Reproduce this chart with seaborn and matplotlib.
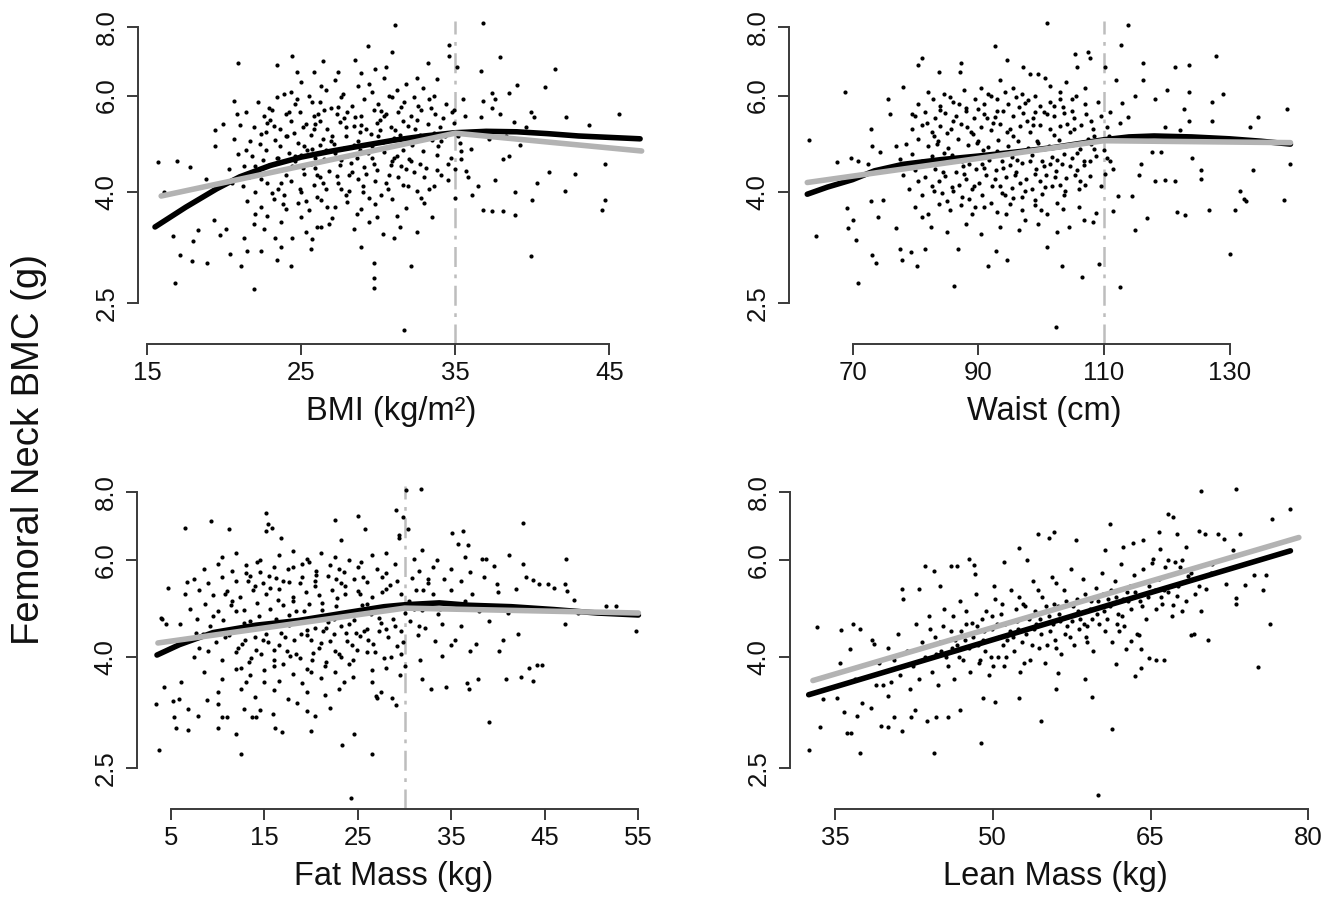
import matplotlib
matplotlib.use("Agg")
import matplotlib.pyplot as plt
from matplotlib.ticker import NullLocator
import pandas as pd
import seaborn as sns

# ---------------- data ----------------
y_ticks = [2.5, 4.0, 6.0, 8.0]
y_tick_labels = ["2.5", "4.0", "6.0", "8.0"]

# BMI panel: (BMI, BMC)
bmi_pts = [
    (15.7,4.53),(16.1,4.0),(16.9,4.55),(16.7,3.32),(16.8,2.72),(17.1,3.07),(17.8,4.44),(18.0,3.25),
    (18.3,3.40),(17.9,2.99),(18.9,2.96),(18.8,4.22),(19.3,3.55),(19.4,4.86),(19.4,5.18),(19.9,5.32),
    (19.7,3.33),(20.1,3.42),(20.4,3.08),(20.6,5.87),(20.9,6.88),(20.8,5.54),(21.1,2.93),(21.9,2.66),
    (21.3,3.29),(21.5,3.12),(22.4,3.12),(23.4,6.83),(23.4,3.00),(24.3,2.93),(24.4,7.09),(23.7,3.17),
    (24.7,6.62),(25.6,3.14),(26.4,6.93),(25.8,6.62),(27.4,6.62),(28.5,6.97),(29.3,7.38),(28.9,3.17),
    (29.7,2.96),(29.7,2.78),(29.7,2.67),(29.8,6.72),(30.5,6.76),(30.9,7.22),(31.0,3.29),(31.1,8.08),
    (31.7,2.24),(32.1,2.93),(32.5,3.38),(33.2,6.88),(33.8,6.44),(34.6,7.09),(34.6,7.42),(35.1,6.76),
    (36.8,8.13),(36.7,6.64),(37.9,7.07),(39.0,6.27),(36.8,3.71),(37.4,3.69),(38.1,3.69),(38.9,3.63),
    (38.9,3.99),(40.0,3.87),(39.9,3.05),(40.3,4.15),(40.1,5.47),(40.8,6.21),(41.1,4.35),(41.5,6.72),
    (42.1,4.01),(42.2,5.47),(42.8,4.32),(43.7,5.29),(44.5,3.71),(44.7,3.87),(44.7,4.50),(45.6,5.54),
    (38.5,6.07),(37.4,6.07),(36.1,3.94),(36.5,4.1),(37.6,4.2),(38.1,4.6),(38.5,4.66),(38.3,5.06),
    (39.6,5.26),(39.9,5.6),(39.2,4.87),(38.8,5.36),(37.9,5.54),(37.4,5.7),(36.8,5.87),(37.6,5.9),
    (36.7,5.47),(37.2,4.99),(36.0,4.8),(35.7,4.37),(35.4,4.6),
    (23.9,6.05),(25.0,6.35),(26.6,6.15),(27.2,6.4),(28.7,6.25),(29.6,6.1),(30.4,6.45),(31.8,6.3),
    (32.9,6.2),(33.6,6.0),(24.3,6.1),(31.2,6.15),
    (22.2,5.85),(23.4,5.95),(24.6,5.8),(25.5,6.0),(26.2,5.85),(27.6,5.95),(28.3,5.75),(29.1,5.9),
    (30.0,5.8),(30.9,5.95),(31.7,5.85),(32.6,5.75),(33.3,5.9),(34.4,5.8),(35.5,5.9),(22.9,5.7),(26.9,5.7),
    (21.4,5.6),(22.6,5.5),(23.1,5.65),(24.0,5.55),(24.9,5.6),(25.8,5.5),(26.5,5.65),(27.3,5.55),
    (28.0,5.6),(28.9,5.5),(29.7,5.65),(30.5,5.55),(31.3,5.6),(32.1,5.5),(32.8,5.65),(33.7,5.55),
    (34.8,5.6),(35.6,5.5),(27.8,5.45),(30.1,5.42),
    (21.0,5.3),(21.9,5.25),(22.8,5.35),(23.6,5.2),(24.3,5.38),(25.1,5.25),(25.9,5.32),(26.7,5.22),
    (27.5,5.36),(28.4,5.28),(29.2,5.2),(29.9,5.35),(30.8,5.25),(31.6,5.38),(32.4,5.22),(33.2,5.32),
    (34.0,5.25),(34.9,5.35),(23.2,5.28),(26.2,5.4),(31.1,5.18),
    (20.6,5.0),(21.7,4.95),(22.4,5.1),(23.3,4.98),(24.1,5.05),(24.8,4.92),(25.6,5.08),(26.4,5.0),
    (27.1,4.9),(27.9,5.06),(28.7,4.96),(29.5,5.1),(30.3,4.93),(31.0,5.02),(31.9,4.95),(32.7,5.08),
    (33.5,4.98),(34.3,5.05),(35.3,4.92),(25.2,4.85),(29.0,4.88),
    (20.9,4.7),(21.8,4.65),(22.7,4.78),(23.5,4.62),(24.2,4.72),(25.0,4.68),(25.7,4.8),(26.5,4.6),
    (27.2,4.72),(28.0,4.66),(28.8,4.78),(29.6,4.62),(30.4,4.74),(31.2,4.66),(32.0,4.6),(32.9,4.75),
    (33.8,4.68),(34.7,4.62),(35.4,4.75),(24.6,4.55),(27.6,4.58),(30.9,4.56),
    (20.3,4.4),(21.3,4.45),(22.1,4.35),(22.9,4.48),(23.7,4.38),(24.4,4.45),(25.2,4.32),(25.9,4.42),
    (26.8,4.36),(27.5,4.48),(28.3,4.34),(29.1,4.44),(29.9,4.38),(30.7,4.3),(31.5,4.46),(32.3,4.35),
    (33.1,4.42),(34.1,4.3),(35.0,4.4),(26.2,4.25),(28.7,4.22),
    (21.2,4.1),(22.0,4.0),(22.8,4.15),(23.5,4.05),(24.3,4.18),(25.0,4.0),(25.8,4.12),(26.6,4.05),
    (27.4,4.15),(28.1,4.02),(29.0,4.1),(29.8,4.18),(30.6,4.05),(31.6,4.12),(32.5,4.02),(33.6,4.1),
    (34.5,4.2),(23.9,3.95),(26.0,3.92),(27.9,3.95),
    (21.5,3.85),(22.4,3.75),(23.2,3.88),(24.0,3.72),(24.8,3.82),(25.5,3.7),(26.3,3.86),(27.2,3.76),
    (28.0,3.84),(28.9,3.72),(29.8,3.8),(30.9,3.88),(31.8,3.74),(33.0,3.82),(22.8,3.62),(25.0,3.6),(27.0,3.58),
    (21.9,3.5),(22.6,3.42),(23.7,3.52),(25.3,3.38),(26.0,3.45),(26.8,3.5),(28.4,3.42),(29.4,3.52),
    (30.3,3.35),(31.4,3.45),(24.4,3.3),(25.7,3.28),
    (23.0,5.42),(24.5,5.12),(25.4,4.78),(26.1,5.55),(27.0,5.05),(27.8,4.82),(28.5,5.48),(29.3,4.72),
    (30.1,5.18),(30.8,4.48),(31.5,5.72),(32.2,4.88),(24.0,4.3),(24.9,4.05),(25.6,4.5),(26.4,4.15),
    (27.3,4.28),(28.2,4.52),(29.0,4.0),(29.7,4.5),(30.5,4.16),(31.3,4.25),(32.1,4.55),(33.0,4.25),
    (23.4,4.62),(25.3,5.32),(26.9,4.95),(28.8,5.15),(30.2,5.62),(32.5,5.42),(33.6,5.12),(34.5,4.5),
    (22.3,4.9),(21.6,4.25),(23.8,3.8),(26.7,3.75),(29.4,3.9),(31.9,4.1),(24.7,5.9),(27.7,6.05),
    (30.7,6.0),(33.9,4.85),(22.5,4.58),(25.9,4.62),(28.6,4.62),(31.6,4.78),(34.2,5.45),(35.2,5.05),
    (20.5,4.15),(21.4,4.78),(35.8,4.25),(35.0,3.9),(33.5,3.6),(32.5,6.45),(28.9,6.6),(26.3,3.45),
    (23.3,3.3),(22.0,3.65),(29.9,3.6),(31.2,3.62),
    (22.7,5.15),(23.6,4.85),(24.2,5.6),(25.1,4.42),(25.8,5.2),(26.6,4.78),(27.4,5.72),(28.1,4.3),
    (28.9,5.3),(29.6,4.85),(30.4,5.5),(31.0,4.62),(31.9,5.28),(32.7,4.5),(33.4,5.7),(34.1,4.95),
    (22.4,4.22),(23.1,3.98),(24.6,4.65),(26.0,4.3),(27.6,4.05),(29.2,4.32),(30.2,3.95),(31.8,4.4),
    (33.3,4.05),(24.0,5.05),(25.7,5.85),(27.9,5.25),(30.0,5.05),(32.3,5.95),(26.3,6.25),(29.4,6.3),
    (23.7,4.15),(26.2,4.88),(28.4,4.88),(31.4,5.08),(33.8,4.38),(34.9,5.65),(22.0,4.45),(25.3,3.85),
    (28.6,3.65),(32.8,3.9),
]
bmi_smooth_x = [15.5, 17.5, 19.5, 21.0, 23.0, 25.0, 27.0, 29.0, 31.0, 33.0, 35.0, 37.0, 39.0, 41.0, 43.0, 45.0, 47.0]
bmi_smooth_y = [3.45, 3.75, 4.05, 4.26, 4.47, 4.63, 4.75, 4.86, 4.97, 5.06, 5.13, 5.16, 5.15, 5.11, 5.06, 5.03, 5.00]
bmi_piece_x = [15.9, 35.0, 47.1]
bmi_piece_y = [3.93, 5.12, 4.75]
bmi_break = 35
bmi_ticks = [15, 25, 35, 45]

# Waist panel
waist_pts = [
    (63.0,4.98),(64.2,3.32),(68.8,6.09),(67.6,4.53),(69.8,4.61),(70.8,4.56),(69.1,3.74),(69.3,3.43),
    (70.1,3.55),(70.6,3.27),(70.9,2.72),(72.5,4.49),(73.0,5.20),(73.1,4.86),(72.9,3.85),(73.1,3.07),
    (73.7,2.97),(74.0,3.60),(74.3,4.73),(75.6,5.90),(75.9,5.54),(74.9,3.87),(76.9,4.86),(76.9,3.43),
    (77.6,3.14),(77.8,3.00),(78.1,6.21),(79.3,3.10),(80.3,2.93),(81.0,7.02),(81.5,3.14),(80.5,6.83),
    (83.7,6.62),(87.3,6.88),(87.1,6.62),(86.2,2.69),(86.8,3.14),(91.5,2.93),(92.7,7.38),(94.6,6.97),
    (92.9,3.12),(94.6,3.0),(97.1,6.76),(98.3,6.56),(99.5,6.56),(100.7,6.45),(101.0,8.13),(101.0,3.17),
    (102.4,2.26),(103.4,2.93),(105.4,7.14),(105.8,6.76),(106.5,2.80),(107.5,7.22),(107.8,7.02),(109.2,2.95),
    (110.2,6.76),(111.9,6.41),(112.6,2.68),(112.8,7.42),(113.9,8.08),(116.3,6.88),(116.3,6.41),(114.9,3.40),
    (116.9,3.59),(120.0,6.15),(121.4,6.76),(121.7,3.68),(122.9,3.63),(123.6,6.83),(123.6,6.09),(124.1,4.62),
    (125.5,4.39),(125.5,4.22),(126.8,3.70),(127.8,7.09),(128.9,6.04),(127.2,5.40),(127.2,5.85),(130.1,3.08),
    (130.9,3.71),(131.6,4.01),(132.3,3.88),(132.6,3.85),(133.2,5.26),(133.7,4.39),(134.5,5.47),(138.7,3.87),
    (139.2,5.67),(139.6,4.50),(119.7,4.21),(121.4,4.18),(118.1,4.18),(119.1,4.73),(120.5,5.03),(122.1,5.19),
    (122.8,5.67),(123.5,5.40),(118.1,5.90),(119.8,5.26),(117.6,4.73),(115.9,4.49),(115.6,4.30),(114.5,3.93),
    (112.9,5.81),(113.9,5.47),(114.9,5.98),(112.2,3.93),(111.5,3.69),(108.8,3.66),(108.2,3.52),(106.8,3.56),
    (82.0,6.1),(84.5,6.05),(87.8,6.15),(90.5,6.2),(92.0,6.0),(94.2,6.1),(95.5,6.2),(97.0,6.05),
    (99.0,6.0),(101.5,6.25),(103.0,6.1),(105.5,6.0),(107.0,6.2),
    (80.5,5.8),(82.8,5.9),(84.0,5.75),(86.0,5.85),(88.0,5.7),(89.5,5.9),(91.0,5.78),(93.0,5.92),
    (94.8,5.8),(96.5,5.72),(98.0,5.88),(99.8,5.75),(101.5,5.85),(103.5,5.72),(105.0,5.9),(107.0,5.78),(109.0,5.85),
    (80.0,5.5),(81.5,5.6),(83.2,5.45),(84.8,5.58),(86.4,5.5),(88.0,5.62),(89.4,5.45),(91.0,5.55),
    (92.6,5.48),(94.0,5.62),(95.6,5.5),(97.2,5.58),(98.8,5.45),(100.4,5.6),(102.0,5.5),(103.7,5.58),
    (105.3,5.45),(107.2,5.55),(109.5,5.5),(111.0,5.6),
    (79.5,5.2),(81.0,5.3),(82.6,5.15),(84.0,5.28),(85.6,5.2),(87.2,5.32),(88.8,5.15),(90.4,5.25),
    (92.0,5.18),(93.5,5.32),(95.0,5.2),(96.6,5.28),(98.2,5.15),(99.8,5.3),(101.4,5.2),(103.0,5.28),
    (104.6,5.15),(106.4,5.3),(108.2,5.2),(110.5,5.25),
    (78.5,4.9),(80.5,5.0),(82.0,4.85),(83.6,4.95),(85.2,4.82),(86.8,5.0),(88.4,4.88),(90.0,4.96),
    (91.6,4.84),(93.2,4.98),(94.8,4.86),(96.4,4.95),(98.0,4.82),(99.6,4.92),(101.2,4.85),(102.8,4.98),
    (104.5,4.88),(106.2,4.8),(108.0,4.9),(110.0,4.78),
    (77.5,4.6),(79.5,4.7),(81.0,4.55),(82.6,4.65),(84.2,4.52),(85.8,4.68),(87.4,4.55),(89.0,4.62),
    (90.6,4.5),(92.2,4.66),(93.8,4.55),(95.4,4.64),(97.0,4.52),(98.6,4.68),(100.2,4.56),(101.8,4.63),
    (103.4,4.5),(105.0,4.62),(106.8,4.55),(108.8,4.65),(111.0,4.55),
    (78.0,4.3),(80.0,4.38),(81.6,4.25),(83.2,4.4),(84.8,4.28),(86.4,4.35),(88.0,4.22),(89.6,4.4),
    (91.2,4.3),(92.8,4.38),(94.4,4.25),(96.0,4.35),(97.6,4.22),(99.2,4.4),(100.8,4.3),(102.4,4.36),
    (104.0,4.24),(105.8,4.38),(107.8,4.28),(110.2,4.32),
    (79.0,4.05),(81.0,3.95),(82.6,4.1),(84.2,3.98),(85.8,4.08),(87.4,3.92),(89.0,4.05),(90.6,3.95),
    (92.2,4.1),(93.8,3.98),(95.4,4.06),(97.0,3.92),(98.6,4.05),(100.2,3.96),(101.8,4.1),(103.6,3.95),(106.0,4.05),
    (80.0,3.75),(82.0,3.65),(83.8,3.8),(85.5,3.7),(87.2,3.78),(89.0,3.64),(91.0,3.75),(93.0,3.68),
    (95.0,3.8),(97.0,3.7),(99.0,3.78),(101.0,3.65),(103.5,3.72),
    (82.5,3.45),(85.0,3.38),(88.0,3.5),(90.5,3.35),(93.5,3.45),(96.5,3.4),(99.5,3.5),(102.5,3.38),(104.5,3.45),
    (83.0,5.05),(84.6,4.72),(86.0,5.4),(87.6,4.45),(89.2,5.1),(90.8,4.78),(92.4,5.35),(94.0,4.42),
    (95.6,5.05),(97.2,4.75),(98.8,5.3),(100.4,4.45),(102.0,5.08),(103.6,4.7),(105.2,5.22),(106.8,4.48),
    (108.4,5.05),(82.2,4.48),(83.8,4.18),(85.4,4.6),(87.0,4.12),(88.6,4.5),(90.2,4.15),(91.8,4.58),
    (93.4,4.1),(95.0,4.48),(96.6,4.15),(98.2,4.55),(99.8,4.18),(101.4,4.5),(103.0,4.12),(104.6,4.45),
    (106.2,4.18),(107.8,4.55),(109.6,4.1),(84.0,5.65),(87.0,5.8),(90.0,5.68),(93.0,5.62),(96.0,5.95),
    (99.0,5.6),(102.0,5.75),(105.0,5.62),(108.0,5.4),(85.0,3.85),(88.5,3.88),(92.0,3.82),(95.5,3.9),
    (99.0,3.86),(102.5,3.82),(106.0,3.75),(80.5,4.18),(79.5,5.55),(110.8,5.05),(111.5,4.4),(112.5,5.35),
    (81.0,3.6),(97.5,3.55),(104.0,6.35),(93.5,6.4),
    (81.8,5.35),(83.4,4.9),(85.0,5.12),(86.6,4.6),(88.2,5.25),(89.8,4.92),(91.4,5.45),(93.0,4.75),
    (94.6,5.15),(96.2,4.58),(97.8,5.4),(99.4,4.95),(101.0,5.55),(102.6,4.58),(104.2,5.32),(105.8,4.72),
    (107.4,5.0),(84.4,4.35),(86.0,4.02),(87.8,4.32),(89.4,4.1),(91.0,4.42),(92.6,4.22),(94.2,3.95),
    (95.8,4.3),(97.4,4.02),(99.0,4.32),(100.6,4.08),(102.2,4.25),(103.8,4.02),(105.4,4.3),(107.0,4.12),
    (85.5,5.95),(91.5,6.05),(97.5,5.82),(103.0,5.9),(89.5,3.75),(94.5,3.65),(100.0,3.7),(83.0,4.02),
    (108.5,4.8),(110.5,4.62),
]
waist_smooth_x = [62.8, 66.0, 70.0, 73.5, 78.0, 84.0, 90.0, 96.0, 102.0, 106.0, 110.0, 114.0, 118.0, 124.0, 130.0, 135.0, 139.7]
waist_smooth_y = [3.96, 4.08, 4.21, 4.37, 4.49, 4.58, 4.65, 4.73, 4.82, 4.90, 4.98, 5.04, 5.06, 5.04, 5.00, 4.95, 4.89]
waist_piece_x = [62.8, 110.0, 139.7]
waist_piece_y = [4.16, 4.96, 4.92]
waist_break = 110
waist_ticks = [70, 90, 110, 130]

# Fat mass panel
fat_pts = [
    (3.7,2.70),(3.4,3.28),(4.3,3.52),(4.0,4.69),(3.95,4.71),(4.7,5.34),(4.5,4.6),(5.2,3.32),
    (5.3,3.10),(5.5,2.97),(5.9,3.35),(6.5,6.87),(6.7,5.49),(6.8,3.21),(6.8,2.94),(6.1,3.60),
    (7.7,4.43),(7.9,3.12),(8.9,3.33),(9.3,7.08),(10.0,3.28),(10.0,2.96),(10.5,3.10),(11.2,6.86),
    (11.9,2.89),(12.5,2.66),(12.8,3.21),(13.7,3.10),(14.1,3.10),(15.2,7.33),(15.4,7.0),(15.2,6.79),
    (15.8,6.88),(15.9,3.14),(16.1,2.97),(16.9,2.91),(16.8,6.6),(19.6,3.18),(20.0,2.93),(20.4,3.12),
    (22.5,7.12),(23.2,6.53),(23.3,2.76),(24.6,2.89),(24.3,2.21),(25.0,7.24),(25.7,6.86),(26.5,2.66),
    (26.9,3.39),(27.0,3.36),(28.0,3.81),(28.6,3.36),(29.1,7.42),(29.1,3.26),(29.4,6.69),(29.4,6.6),
    (29.8,7.2),(30.1,8.07),(30.4,6.84),(31.7,8.11),(31.9,6.28),(31.9,3.65),(32.8,3.49),(34.4,3.52),
    (35.1,6.74),(36.2,6.79),(35.7,6.44),(36.8,6.4),(36.9,3.49),(36.7,3.58),(37.8,3.65),(38.3,6.05),
    (38.7,6.05),(39.0,3.04),(39.6,5.87),(39.9,5.43),(40.1,4.1),(40.8,3.65),(41.2,6.14),(41.9,5.33),
    (42.1,4.41),(42.4,3.67),(42.7,7.03),(42.7,5.9),(43.0,5.6),(43.3,3.81),(43.7,3.61),(43.7,5.53),
    (44.2,3.86),(44.7,3.86),(44.4,5.43),(45.3,5.43),(46.0,5.35),(47.2,4.6),(47.3,6.05),(47.2,5.43),
    (47.4,5.27),(48.1,5.08),(48.5,4.82),(51.5,4.95),(52.6,4.95),(54.7,4.46),
    (10.5,6.1),(12.0,6.2),(14.5,6.0),(16.5,6.15),(18.0,6.25),(19.5,6.05),(21.0,6.2),(22.5,6.1),
    (24.0,6.0),(26.5,6.15),(28.0,6.2),(31.0,6.05),(33.5,6.0),(36.5,6.1),
    (8.5,5.8),(10.0,5.9),(11.5,5.75),(13.0,5.88),(14.5,5.72),(16.0,5.85),(17.5,5.78),(19.0,5.92),
    (20.5,5.75),(22.0,5.88),(23.5,5.72),(25.0,5.85),(27.0,5.78),(29.0,5.9),(31.5,5.75),(33.0,5.85),
    (35.0,5.8),(37.0,5.72),
    (7.5,5.55),(9.0,5.45),(10.5,5.6),(12.0,5.5),(13.4,5.62),(14.8,5.45),(16.2,5.58),(17.6,5.48),
    (19.0,5.6),(20.4,5.5),(21.8,5.62),(23.2,5.45),(24.6,5.55),(26.0,5.48),(27.6,5.6),(29.2,5.5),
    (30.8,5.58),(32.5,5.45),(34.2,5.55),(36.0,5.5),(38.5,5.6),
    (6.5,5.2),(8.0,5.3),(9.5,5.18),(11.0,5.28),(12.4,5.15),(13.8,5.3),(15.2,5.2),(16.6,5.32),
    (18.0,5.15),(19.4,5.26),(20.8,5.18),(22.2,5.3),(23.6,5.2),(25.0,5.28),(26.5,5.15),(28.0,5.32),
    (29.6,5.2),(31.2,5.3),(33.0,5.22),(35.0,5.3),(37.2,5.2),(40.0,5.25),
    (7.0,4.9),(8.6,5.0),(10.0,4.85),(11.4,4.98),(12.8,4.88),(14.2,5.02),(15.6,4.9),(17.0,4.98),
    (18.4,4.85),(19.8,5.0),(21.2,4.88),(22.6,4.95),(24.0,4.82),(25.4,4.98),(26.8,4.86),(28.4,4.92),
    (30.0,4.82),(31.8,4.88),(33.6,4.8),(35.6,4.9),(38.0,4.85),(41.0,4.82),
    (6.0,4.6),(7.8,4.7),(9.2,4.55),(10.6,4.68),(12.0,4.52),(13.4,4.65),(14.8,4.55),(16.2,4.7),
    (17.6,4.58),(19.0,4.66),(20.4,4.52),(21.8,4.64),(23.2,4.55),(24.6,4.68),(26.0,4.5),(27.5,4.62),
    (29.0,4.55),(30.6,4.66),(32.2,4.52),(34.0,4.6),(36.0,4.55),(39.0,4.65),
    (6.8,4.3),(8.4,4.4),(9.8,4.25),(11.2,4.38),(12.6,4.22),(14.0,4.35),(15.4,4.25),(16.8,4.42),
    (18.2,4.3),(19.6,4.38),(21.0,4.24),(22.4,4.4),(23.8,4.28),(25.2,4.36),(26.6,4.22),(28.2,4.35),
    (29.8,4.25),(31.4,4.38),(33.2,4.28),(35.4,4.3),(37.6,4.22),(40.5,4.3),
    (7.5,4.0),(9.0,4.1),(10.5,3.95),(12.0,4.08),(13.3,3.92),(14.6,4.05),(16.0,3.95),(17.4,4.1),
    (18.8,3.98),(20.2,4.06),(21.6,3.92),(23.0,4.05),(24.5,3.95),(26.0,4.08),(27.8,3.98),(29.6,4.05),
    (31.6,3.95),(34.0,4.02),(37.0,4.1),
    (8.5,3.75),(10.5,3.65),(12.0,3.8),(13.5,3.7),(15.0,3.78),(16.5,3.62),(18.0,3.72),(19.5,3.8),
    (21.0,3.66),(22.5,3.75),(24.5,3.68),(26.5,3.78),(29.5,3.7),
    (10.0,3.45),(12.5,3.5),(14.0,3.38),(16.0,3.48),(17.5,3.35),(19.5,3.45),(21.5,3.4),(23.0,3.5),
    (11.5,5.05),(12.8,4.62),(14.0,5.4),(15.2,4.4),(16.4,5.08),(17.6,4.78),(18.8,5.45),(20.0,4.3),
    (21.2,5.02),(22.4,4.7),(23.6,5.38),(24.8,4.42),(26.0,5.0),(27.2,4.72),(28.4,5.42),(29.6,4.45),
    (12.2,4.15),(13.6,3.98),(14.8,4.3),(16.0,4.12),(17.2,4.35),(18.4,4.05),(19.6,4.48),(20.8,4.15),
    (22.0,4.28),(23.2,4.0),(24.4,4.2),(25.6,4.45),(26.8,4.08),(28.0,4.5),(29.2,4.18),(13.0,5.7),
    (15.5,5.62),(18.0,5.85),(20.5,5.65),(23.0,5.78),(25.5,5.6),(28.0,5.7),(12.5,3.82),(15.0,3.6),
    (17.0,3.88),(19.0,3.58),(21.5,3.85),(24.0,3.88),(26.5,3.6),(30.5,5.05),(31.5,4.55),(32.5,5.55),
    (30.0,3.85),(9.5,4.75),(8.0,4.15),(10.8,4.35),(33.8,4.9),(35.0,4.2),(36.5,5.05),(11.0,3.1),
    (14.5,3.2),(18.5,3.3),(22.0,3.22),(27.5,3.45),
    (10.8,5.2),(12.0,4.85),(13.2,5.5),(14.4,4.75),(15.6,5.35),(16.8,4.62),(18.0,5.05),(19.2,4.85),
    (20.4,5.4),(21.6,4.52),(22.8,5.12),(24.0,4.6),(25.2,5.2),(26.4,4.8),(27.6,5.25),(28.8,4.7),
    (11.6,4.48),(12.9,4.3),(14.1,4.12),(15.3,4.58),(16.5,4.2),(17.7,4.02),(18.9,4.4),(20.1,3.95),
    (21.3,4.45),(22.5,4.1),(23.7,4.42),(24.9,4.12),(26.1,4.3),(27.3,4.45),(28.5,4.0),(14.2,5.95),
    (17.0,5.5),(19.8,5.95),(22.6,5.55),(25.3,5.95),(13.0,3.6),(16.0,3.85),(20.0,3.75),(23.5,3.6),
    (31.0,4.9),(32.0,5.3),
]
fat_smooth_x = [3.5, 5.9, 9.5, 14.1, 18.6, 23.2, 27.8, 30.0, 33.7, 36.9, 41.4, 46.0, 50.6, 55.0]
fat_smooth_y = [4.03, 4.21, 4.43, 4.57, 4.66, 4.80, 4.94, 4.98, 5.02, 4.97, 4.94, 4.88, 4.81, 4.77]
fat_piece_x = [3.6, 30.0, 55.0]
fat_piece_y = [4.24, 4.91, 4.81]
fat_break = 30
fat_ticks = [5, 15, 25, 35, 45, 55]

# Lean mass panel
lean_pts = [
    (32.5,2.70),(33.3,4.54),(33.6,2.98),(33.9,3.35),(35.2,3.36),(35.5,3.9),(35.6,4.48),(35.9,3.17),
    (36.1,2.9),(36.5,2.9),(36.4,4.14),(36.7,4.59),(36.9,3.65),(37.1,3.12),(37.4,2.67),(37.4,4.5),
    (37.6,3.29),(38.4,3.23),(38.7,4.22),(39.4,2.99),(39.6,3.55),(40.0,2.98),(40.0,3.39),(40.6,3.1),
    (41.4,2.93),(41.4,5.33),(41.5,5.1),(42.2,3.1),(42.6,3.2),(43.0,5.33),(43.6,5.87),(43.7,3.05),
    (44.4,2.67),(44.4,5.75),(44.6,3.1),(45.0,5.39),(45.7,3.1),(46.0,5.87),(46.6,5.87),(46.9,3.2),
    (47.7,6.04),(48.2,5.88),(48.3,5.68),(48.9,2.78),(49.1,3.36),(50.2,3.31),(50.1,5.38),(51.1,5.96),
    (52.5,6.32),(52.5,3.36),(53.3,6.0),(54.3,6.72),(54.6,3.05),(55.3,6.6),(55.8,6.76),(56.0,3.49),
    (56.2,3.73),(57.9,6.53),(58.8,3.64),(59.4,3.38),(60.0,2.24),(60.7,6.28),(61.1,7.0),(61.3,2.95),
    (61.7,3.88),(62.4,6.34),(63.3,6.45),(63.5,3.69),(64.1,3.81),(64.3,6.55),(64.9,3.98),(65.5,3.95),
    (65.8,6.76),(66.3,3.94),(66.7,7.3),(67.1,7.2),(67.5,6.7),(68.4,6.35),(68.8,4.38),(69.1,4.4),
    (69.8,8.03),(69.6,6.8),(69.8,4.85),(70.2,6.72),(70.5,4.3),(70.7,5.7),(70.8,5.92),(71.4,6.7),
    (72.0,6.56),(72.2,5.43),(72.8,6.26),(73.1,8.1),(73.1,5.12),(73.1,4.99),(73.5,6.7),(74.0,5.42),
    (74.8,5.64),(75.2,3.84),(75.7,5.3),(76.0,5.64),(76.4,4.59),(76.5,7.14),(78.3,7.44),(68.0,4.85),
    (67.1,4.97),(66.3,5.3),(67.5,5.17),(68.6,5.63),(69.6,5.39),(70.3,5.32),(65.9,6.3),(66.7,6.0),
    (65.1,5.93),(67.8,5.85),(63.9,4.38),(63.1,4.27),(62.7,4.14),(64.1,4.14),
    (38.5,4.3),(38.9,3.55),(39.2,3.9),(40.0,4.15),(40.3,3.6),(40.6,3.95),(41.0,4.4),(41.2,3.7),
    (41.8,4.1),(42.1,3.5),(42.4,3.85),(42.7,4.6),(43.0,3.65),(43.3,4.25),(43.6,4.0),(43.9,4.75),
    (44.2,3.75),(44.5,4.35),(44.8,3.55),(45.1,4.1),(45.4,4.9),(45.7,3.85),(46.0,4.45),(46.3,3.65),
    (46.6,4.2),(46.9,5.05),(47.2,3.95),(47.5,4.6),(47.8,3.75),(48.1,4.35),(48.4,5.2),(48.7,3.9),
    (49.0,4.7),(49.3,4.1),(49.6,3.7),(49.9,4.5),(50.2,5.1),(50.5,4.0),(50.8,4.8),(51.1,3.85),
    (51.4,4.3),(51.7,5.3),(52.0,4.1),(52.3,4.65),(52.6,3.75),(52.9,5.0),(53.2,4.4),(53.5,3.95),
    (53.8,5.5),(54.1,4.6),(54.4,4.15),(54.7,5.15),(55.0,3.9),(55.3,4.75),(55.6,5.6),(55.9,4.3),
    (56.2,4.95),(56.5,4.05),(56.8,5.3),(57.1,4.55),(57.4,5.8),(57.7,4.2),(58.0,5.1),(58.3,4.7),
    (58.6,5.55),(58.9,4.35),(59.2,4.9),(59.5,4.1),(59.8,5.35),(60.1,4.6),(60.4,5.7),(60.7,4.45),
    (61.0,5.1),(61.3,4.25),(61.6,5.5),(61.9,4.8),(62.2,5.9),(62.5,4.55),(62.8,5.25),(63.1,4.9),
    (63.4,5.65),(63.7,4.4),(64.0,5.05),(64.3,5.8),(64.6,4.7),(64.9,5.4),(65.2,6.05),(65.5,4.9),
    (65.8,5.55),(66.1,5.0),(66.4,5.85),(66.7,5.25),(67.0,4.75),(67.3,5.95),(67.6,5.4),(68.0,6.0),
    (68.4,5.05),(68.8,5.7),(69.2,5.2),
    (45.0,4.25),(45.6,4.0),(46.4,4.3),(47.0,4.45),(47.7,4.15),(48.5,4.55),(49.1,4.3),(49.8,4.0),
    (50.4,4.6),(51.0,4.2),(51.6,4.45),(52.2,4.9),(52.8,4.25),(53.4,4.7),(54.0,4.85),(54.6,4.4),
    (55.2,4.2),(55.8,5.0),(56.4,4.65),(57.0,5.05),(57.6,4.95),(58.2,4.5),(58.8,5.2),(59.4,4.7),
    (60.0,5.05),(60.6,4.85),(61.2,5.3),(61.8,4.6),(62.4,5.1),(63.0,5.4),(49.4,4.85),(50.9,5.0),
    (52.5,5.15),(54.3,5.3),(56.0,5.45),(47.5,4.85),(44.0,4.5),(46.2,4.75),(48.8,3.95),(51.3,4.0),
    (53.7,4.2),(55.4,4.45),(57.3,4.35),(59.0,4.55),(60.9,4.7),
    (44.6,4.05),(45.3,4.55),(46.1,4.15),(46.8,4.0),(47.4,4.3),(48.0,4.62),(48.6,4.2),(49.2,4.45),
    (49.9,4.75),(50.6,4.35),(51.2,4.6),(51.9,4.35),(52.4,4.5),(53.1,4.95),(53.9,4.5),(54.5,4.7),
    (55.1,4.95),(55.7,4.6),(56.3,4.8),(56.9,4.4),(57.5,4.65),(58.1,4.85),(58.7,4.6),(59.3,5.05),
    (59.9,4.8),(60.5,5.2),(61.1,4.95),(61.7,5.15),(62.3,4.75),(62.9,5.05),(63.5,5.25),(64.2,4.95),
    (64.8,5.15),(65.4,5.3),(66.0,5.15),(50.0,3.85),(53.0,3.9),(56.0,4.15),(59.0,4.25),(62.0,4.45),
]
lean_smooth_x = [32.5, 78.3]
lean_smooth_y = [3.41, 6.25]
lean_piece_x = [32.9, 79.1]
lean_piece_y = [3.62, 6.61]
lean_break = None
lean_ticks = [35, 50, 65, 80]

# ---------------- styling ----------------
sns.set_style("ticks")
plt.rcParams['font.family'] = ['Liberation Sans', 'DejaVu Sans']

axis_col = "#3a3a3a"
fit_gray = "#b3b3b3"
cut_gray = "#bdbdbd"

fig = plt.figure(figsize=(13.39, 8.99), dpi=100)

panels = [
    dict(pts=bmi_pts, sx=bmi_smooth_x, sy=bmi_smooth_y, px=bmi_piece_x, py=bmi_piece_y,
         cut=bmi_break, ticks=bmi_ticks, label="BMI (kg/m²)",
         rect=[0.10306, 0.61735, 0.37864, 0.35929], xlim=(14.396, 47.318)),
    dict(pts=waist_pts, sx=waist_smooth_x, sy=waist_smooth_y, px=waist_piece_x, py=waist_piece_y,
         cut=waist_break, ticks=waist_ticks, label="Waist (cm)",
         rect=[0.58925, 0.61735, 0.38163, 0.35929], xlim=(59.894, 141.22)),
    dict(pts=fat_pts, sx=fat_smooth_x, sy=fat_smooth_y, px=fat_piece_x, py=fat_piece_y,
         cut=fat_break, ticks=fat_ticks, label="Fat Mass (kg)",
         rect=[0.10232, 0.10011, 0.38312, 0.35929], xlim=(1.363, 56.24)),
    dict(pts=lean_pts, sx=lean_smooth_x, sy=lean_smooth_y, px=lean_piece_x, py=lean_piece_y,
         cut=lean_break, ticks=lean_ticks, label="Lean Mass (kg)",
         rect=[0.58999, 0.10011, 0.39582, 0.35929], xlim=(30.722, 81.11)),
]

for p in panels:
    ax = fig.add_axes(p["rect"])
    df = pd.DataFrame(p["pts"], columns=["x", "y"])
    sns.scatterplot(data=df, x="x", y="y", ax=ax, s=9, color="black",
                    linewidth=0, legend=False, zorder=2)
    if p["cut"] is not None:
        ax.axvline(p["cut"], color=cut_gray, lw=1.8, ls=(0, (8, 3, 1.5, 3)), zorder=1.5)
    sns.lineplot(x=p["sx"], y=p["sy"], ax=ax, color="black", lw=4,
                 estimator=None, sort=False, zorder=3)
    sns.lineplot(x=p["px"], y=p["py"], ax=ax, color=fit_gray, lw=4,
                 estimator=None, sort=False, zorder=4)

    ax.set_yscale("log")
    ax.set_ylim(2.108, 8.21)
    ax.set_xlim(*p["xlim"])
    ax.set_yticks(y_ticks)
    ax.set_yticklabels(y_tick_labels)
    ax.yaxis.set_minor_locator(NullLocator())
    ax.set_xticks(p["ticks"])
    ax.set_xticklabels([str(t) for t in p["ticks"]])

    for s in ["top", "right"]:
        ax.spines[s].set_visible(False)
    ax.spines["left"].set_bounds(y_ticks[0], y_ticks[-1])
    ax.spines["bottom"].set_bounds(p["ticks"][0], p["ticks"][-1])
    for s in ["left", "bottom"]:
        ax.spines[s].set_color(axis_col)
        ax.spines[s].set_linewidth(1.4)

    ax.tick_params(axis="both", length=8, width=1.4, color=axis_col,
                   labelsize=18.5, labelcolor="#111111", direction="out")
    ax.tick_params(axis="x", pad=4)
    ax.tick_params(axis="y", pad=6, labelrotation=90)
    for lab in ax.get_yticklabels():
        lab.set_va("center")

    ax.set_ylabel("")
    ax.set_xlabel(p["label"], fontsize=23.5, color="#111111")
    ax.xaxis.label.set_va("center")
    ax.xaxis.set_label_coords(0.5, -0.21)

fig.text(0.0217, 0.4995, "Femoral Neck BMC (g)", rotation=90, ha="center", va="center",
         fontsize=27.5, color="#111111")

fig.savefig("out.png", dpi=100)
